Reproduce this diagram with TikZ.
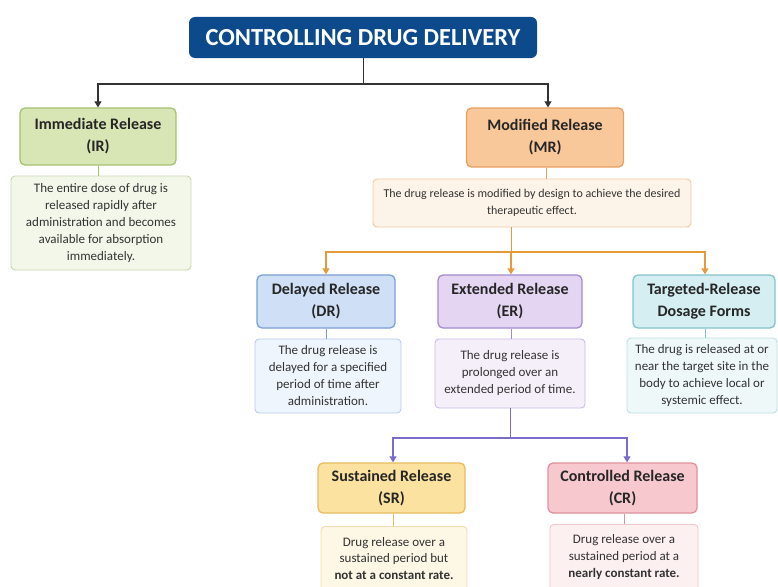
\documentclass[tikz,border=0pt]{standalone}
\usepackage{fontspec}
\setmainfont{Carlito}
\usetikzlibrary{arrows.meta}
\definecolor{titlebg}{RGB}{12,74,140}
\definecolor{irfill}{RGB}{216,230,181}\definecolor{irdraw}{RGB}{165,194,112}
\definecolor{irdfill}{RGB}{243,247,234}\definecolor{irddraw}{RGB}{200,216,176}
\definecolor{mrfill}{RGB}{248,199,154}\definecolor{mrdraw}{RGB}{231,160,96}
\definecolor{mrdfill}{RGB}{253,244,233}\definecolor{mrddraw}{RGB}{240,200,160}
\definecolor{orangeline}{RGB}{230,154,60}
\definecolor{drfill}{RGB}{207,224,246}\definecolor{drdraw}{RGB}{122,159,212}
\definecolor{drdfill}{RGB}{239,245,252}\definecolor{drddraw}{RGB}{185,204,232}
\definecolor{erfill}{RGB}{228,213,243}\definecolor{erdraw}{RGB}{164,139,207}
\definecolor{erdfill}{RGB}{245,239,250}\definecolor{erddraw}{RGB}{203,187,227}
\definecolor{trfill}{RGB}{212,238,242}\definecolor{trdraw}{RGB}{133,194,204}
\definecolor{trdfill}{RGB}{239,248,249}\definecolor{trddraw}{RGB}{188,223,228}
\definecolor{purpleline}{RGB}{122,108,200}
\definecolor{srfill}{RGB}{251,226,160}\definecolor{srdraw}{RGB}{231,189,94}
\definecolor{srdfill}{RGB}{253,247,230}\definecolor{srddraw}{RGB}{240,220,174}
\definecolor{crfill}{RGB}{248,200,207}\definecolor{crdraw}{RGB}{223,145,155}
\definecolor{crdfill}{RGB}{253,240,241}\definecolor{crddraw}{RGB}{240,196,202}
\definecolor{darkline}{RGB}{50,50,50}
\tikzset{
  headbox/.style={draw, rounded corners=5pt, line width=1.3pt, align=center,
    font=\fontsize{16}{22}\selectfont\bfseries, inner sep=0pt, text=black!85},
  descbox/.style={draw, rounded corners=4pt, line width=0.9pt, align=center,
    font=\fontsize{13}{17}\selectfont, inner sep=0pt, text=black!80},
  desctext/.style={align=center, inner sep=0pt, text=black!80,
    font=\fontsize{13}{16.5}\selectfont},
  arr/.style={line width=1.1pt, -{Triangle[width=7pt,length=6pt]}},
  plain/.style={line width=1pt}
}
\begin{document}
\begin{tikzpicture}[x=1pt,y=-1pt]
\useasboundingbox (0,0) rectangle (778,586);
\clip (0,0) rectangle (778,586);
% title
\node[fill=titlebg, rounded corners=6pt, minimum width=348pt, minimum height=41pt, inner sep=0pt,
  text=white, font=\fontsize{24.5}{28}\selectfont\bfseries] (title) at (363,37.5) {CONTROLLING DRUG DELIVERY};
% level 1
\node[headbox, fill=irfill, draw=irdraw, minimum width=156pt, minimum height=57pt] (IR) at (98,136.5) {Immediate Release\\(IR)};
\node[descbox, fill=irdfill, draw=irddraw, minimum width=180pt, minimum height=94pt] (IRd) at (101,223) {The entire dose of drug is\\released rapidly after\\administration and becomes\\available for absorption\\immediately.};
\node[headbox, fill=mrfill, draw=mrdraw, minimum width=157pt, minimum height=59pt] (MR) at (545,137.5) {Modified Release\\(MR)};
\node[descbox, fill=mrdfill, draw=mrddraw, minimum width=318pt, minimum height=48pt, font=\fontsize{12}{17}\selectfont] (MRd) at (532,203) {The drug release is modified by design to achieve the desired\\therapeutic effect.};
% level 2
\node[headbox, fill=drfill, draw=drdraw, minimum width=138pt, minimum height=53pt] (DR) at (326,301.5) {Delayed Release\\(DR)};
\node[descbox, fill=drdfill, draw=drddraw, minimum width=146pt, minimum height=74pt] (DRd) at (328,376) {The drug release is\\delayed for a specified\\period of time after\\administration.};
\node[headbox, fill=erfill, draw=erdraw, minimum width=144pt, minimum height=53pt] (ER) at (510,301.5) {Extended Release\\(ER)};
\node[descbox, fill=erdfill, draw=erddraw, minimum width=150pt, minimum height=69pt] (ERd) at (510,373.5) {The drug release is\\prolonged over an\\extended period of time.};
\node[headbox, fill=trfill, draw=trdraw, minimum width=142pt, minimum height=53pt] (TR) at (704,301.5) {Targeted-Release\\Dosage Forms};
\node[descbox, fill=trdfill, draw=trddraw, minimum width=150pt, minimum height=75pt] (TRd) at (702,375.5) {The drug is released at or\\near the target site in the\\body to achieve local or\\systemic effect.};
% level 3
\node[headbox, fill=srfill, draw=srdraw, minimum width=147pt, minimum height=50pt] (SR) at (391.5,488) {Sustained Release\\(SR)};
\node[descbox, fill=srdfill, draw=srddraw, minimum width=146pt, minimum height=80pt, anchor=north] (SRd) at (394,526) {};
\node[desctext] (SRt) at (394,558.5) {Drug release over a\\sustained period but\\\textbf{not at a constant rate.}};
\node[headbox, fill=crfill, draw=crdraw, minimum width=149pt, minimum height=50pt] (CR) at (622.5,488) {Controlled Release\\(CR)};
\node[descbox, fill=crdfill, draw=crddraw, minimum width=148pt, minimum height=80pt, anchor=north] (CRd) at (624,524) {};
\node[desctext] (CRt) at (624,557) {Drug release over a\\sustained period at a\\\textbf{nearly constant rate.}};
% connectors top
\coordinate (j0) at (363,84);
\draw[plain, darkline] (title.south) -- (j0);
\draw[arr, darkline] (j0) -| (IR.north);
\draw[arr, darkline] (j0) -| ([xshift=3pt]MR.north);
\draw[plain, irdraw] (IR.south) -- (IR.south |- IRd.north);
\draw[plain, mrdraw] ([xshift=1pt]MR.south) -- ([xshift=1pt]MR.south |- MRd.north);
% MR children
\coordinate (j1) at (511,252);
\draw[plain, orangeline] (511,227) -- (j1);
\draw[arr, orangeline] (j1) -| (DR.north);
\draw[arr, orangeline] (j1) -- ([xshift=1pt]ER.north);
\draw[arr, orangeline] (j1) -| ([xshift=1pt]TR.north);
\draw[plain, drdraw] (DR.south) -- (DR.south |- DRd.north);
\draw[plain, erdraw] ([xshift=1pt]ER.south) -- ([xshift=1pt]ER.south |- ERd.north);
\draw[plain, trdraw] ([xshift=1pt]TR.south) -- ([xshift=1pt]TR.south |- TRd.north);
% ER children
\coordinate (j2) at (510,438);
\draw[plain, purpleline] (ERd.south) -- (j2);
\draw[arr, purpleline] (j2) -| ([xshift=1.5pt]SR.north);
\draw[arr, purpleline] (j2) -| ([xshift=4.5pt]CR.north);
\draw[plain, srdraw] ([xshift=1.5pt]SR.south) -- ([xshift=1.5pt]SR.south |- SRd.north);
\draw[plain, crdraw] ([xshift=1.5pt]CR.south) -- ([xshift=1.5pt]CR.south |- CRd.north);
\end{tikzpicture}
\end{document}
